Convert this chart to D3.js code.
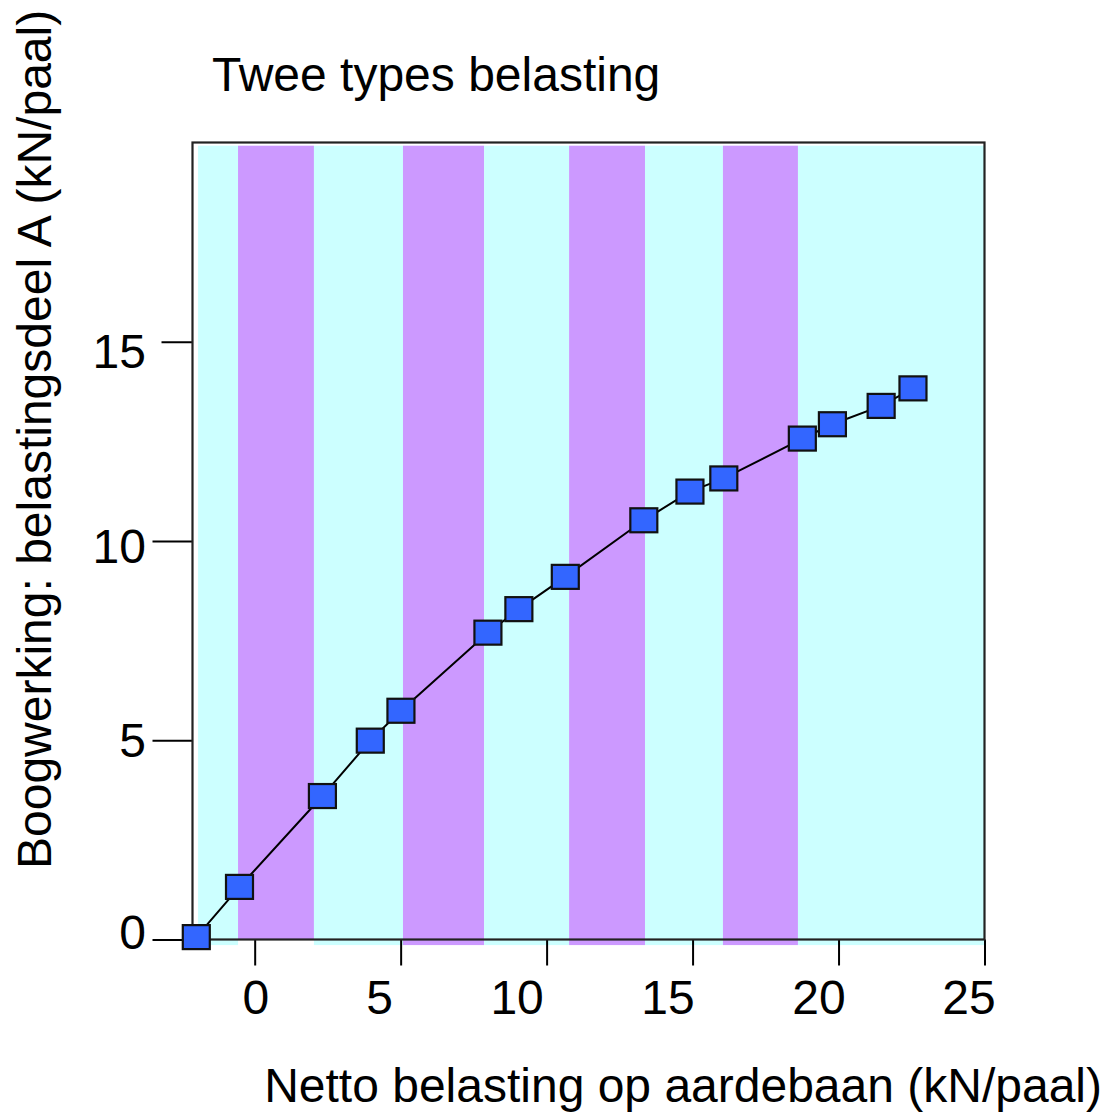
<!DOCTYPE html>
<html>
<head>
<meta charset="utf-8">
<script src="https://cdn.jsdelivr.net/npm/d3@7"></script>
<style>
  html, body { margin: 0; padding: 0; background: #fff; }
  svg text { font-family: "Liberation Sans", Arial, Helvetica, sans-serif; fill: #000; }
</style>
</head>
<body>
<svg id="chart" width="1109" height="1115"></svg>
<script>
// ---- data ----
const netLoad = [-2.00, -0.52, 2.32, 3.96, 5.01, 7.99, 9.05, 10.64, 13.33, 14.91, 16.07, 18.76, 19.79, 21.46, 22.55];
const archingA = [0.06, 1.32, 3.60, 4.99, 5.74, 7.70, 8.29, 9.10, 10.52, 11.24, 11.57, 12.57, 12.93, 13.39, 13.83];

// alternating load-type bands (x edges in kN/paal)
const bandEdges = [-1.94, -0.57, 2.03, 5.08, 7.86, 10.77, 13.37, 16.04, 18.61, 24.98];
const bandTypes = ["type1", "type2", "type1", "type2", "type1", "type2", "type1", "type2", "type1"];

const xTicks = [0, 5, 10, 15, 20, 25];
const xTickLabels = ["0", "5", "10", "15", "20", "25"];
const xTickLabelAt = [0.04, 4.28, 8.99, 14.16, 19.33, 24.47];   // where the labels sit (data units)
const yTicks = [0, 5, 10, 15];
const yTickLabels = ["0", "5", "10", "15"];
const yTickLabelAt = [0.19, 5.01, 9.87, 14.77];

const chartTitle = "Twee types belasting";
const xTitle = "Netto belasting op aardebaan (kN/paal)";
const yTitle = "Boogwerking: belastingsdeel A (kN/paal)";

(function () {
// ---- layout ----
const svg = d3.select("#chart");
const pl = 192.5, pr = 984.5, pt = 142.5, pb = 939.5;
const x = d3.scaleLinear().domain([-2.13, 25]).range([pl, pr]);
const y = d3.scaleLinear().domain([0, 20]).range([pb, pt]);
const bandColor = d3.scaleOrdinal().domain(["type1", "type2"]).range(["#CCFFFF", "#CC99FF"]);
const fontSize = 48;

// bands
const bands = bandTypes.map((t, i) => ({ x0: bandEdges[i], x1: bandEdges[i + 1], type: t, i }));
svg.append("g").selectAll("rect").data(bands).join("rect")
  .attr("x", d => x(d.x0))
  .attr("width", d => x(d.x1) - x(d.x0))
  .attr("y", y(19.92))
  .attr("height", d => (d.i === 1 ? y(0) : y(-0.14)) - y(19.92))
  .attr("fill", d => bandColor(d.type));

// axes (tick marks)
const xAxis = svg.append("g").attr("transform", `translate(0,${y(0)})`)
  .call(d3.axisBottom(x).tickValues(xTicks).tickSize(26).tickFormat(""));
xAxis.select(".domain").remove();
xAxis.selectAll("line").attr("stroke", "#000").attr("stroke-width", 2);

const yAxis = svg.append("g").attr("transform", `translate(${x(-2.13)},0)`)
  .call(d3.axisLeft(y).tickValues(yTicks).tickSize(40).tickFormat(""));
yAxis.select(".domain").remove();
yAxis.selectAll("line").attr("stroke", "#000").attr("stroke-width", 2)
  .filter(d => d === 15).attr("x2", -31);

// frame
svg.append("rect")
  .attr("x", pl).attr("y", pt)
  .attr("width", pr - pl).attr("height", pb - pt)
  .attr("fill", "none").attr("stroke", "#222").attr("stroke-width", 2.2);

// tick labels
svg.append("g").selectAll("text").data(xTickLabels).join("text")
  .attr("x", (d, i) => x(xTickLabelAt[i]))
  .attr("y", 1014)
  .attr("text-anchor", "middle")
  .attr("font-size", fontSize)
  .text(d => d);

svg.append("g").selectAll("text").data(yTickLabels).join("text")
  .attr("x", 146)
  .attr("y", (d, i) => y(yTickLabelAt[i]))
  .attr("dy", "0.35em")
  .attr("text-anchor", "end")
  .attr("font-size", fontSize)
  .text(d => d);

// line
const pts = netLoad.map((v, i) => [v, archingA[i]]);
svg.append("path")
  .datum(pts)
  .attr("fill", "none")
  .attr("stroke", "#000")
  .attr("stroke-width", 2)
  .attr("d", d3.line().x(d => x(d[0])).y(d => y(d[1])));

// markers
const mw = 27, mh = 24;
svg.append("g").selectAll("rect").data(pts).join("rect")
  .attr("x", d => x(d[0]) - mw / 2)
  .attr("y", d => y(d[1]) - mh / 2)
  .attr("width", mw).attr("height", mh)
  .attr("fill", "#3366FF")
  .attr("stroke", "#111")
  .attr("stroke-width", 2.2);

// titles
svg.append("text").attr("x", 212).attr("y", 91)
  .attr("font-size", fontSize).text(chartTitle);

svg.append("text").attr("x", 1102).attr("y", 1102)
  .attr("text-anchor", "end")
  .attr("font-size", fontSize).text(xTitle);

svg.append("text")
  .attr("transform", "translate(51,869) rotate(-90)")
  .attr("text-anchor", "start")
  .attr("font-size", fontSize).text(yTitle);
})();
</script>
</body>
</html>
